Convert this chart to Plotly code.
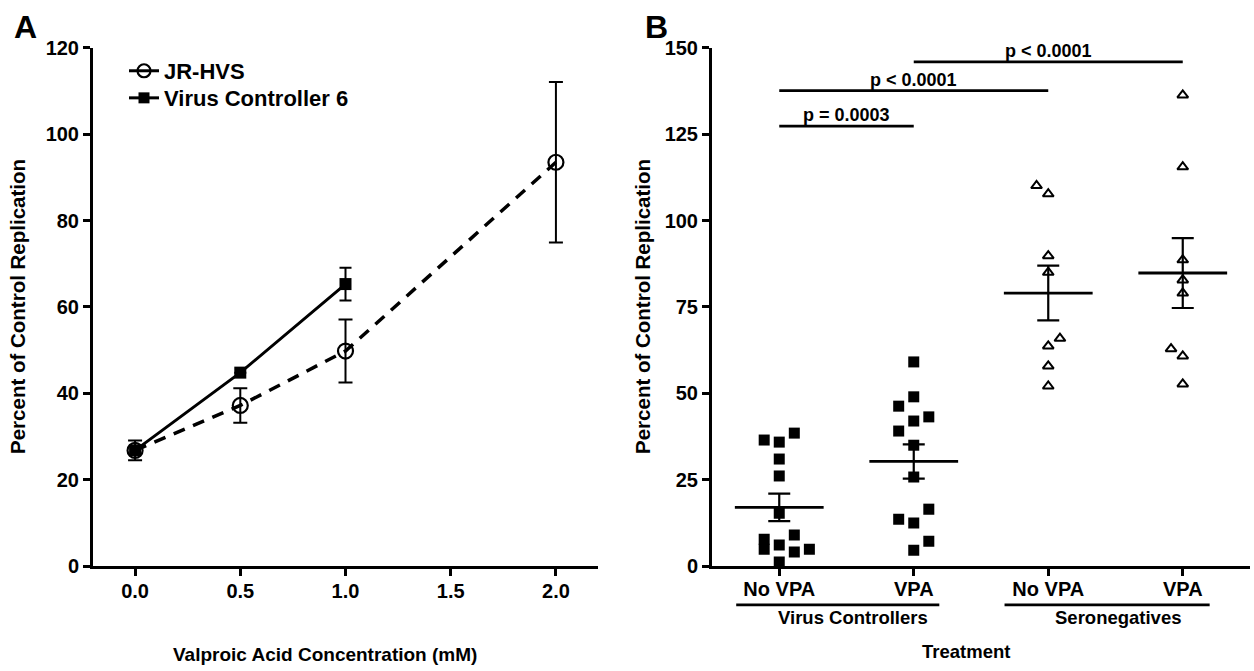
import numpy as np
import plotly.graph_objects as go

# ---------------- data ----------------
# Panel A
conc_jr = [0.0, 0.5, 1.0, 2.0]
jr_mean = [26.8, 37.2, 49.8, 93.5]
jr_sem = [2.3, 4.0, 7.3, 18.6]
conc_vc = [0.0, 0.5, 1.0]
vc_mean = [26.8, 44.8, 65.3]
vc_sem = [1.0, 0.0, 3.8]

# Panel B
tick_labels = ["No VPA", "VPA", "No VPA", "VPA"]
group_names = ["Virus Controllers", "Seronegatives"]
vc_no_vpa = [36.5, 35.9, 38.5, 31.0, 26.1, 15.3, 7.8, 4.9, 6.1, 9.0, 4.1, 4.9, 1.2]
vc_vpa = [59.1, 49.0, 46.3, 42.0, 43.2, 39.1, 35.0, 25.8, 16.5, 13.6, 12.5, 7.2, 4.6]
sn_no_vpa = [110.1, 107.7, 89.8, 85.0, 65.9, 63.7, 57.9, 52.1]
sn_vpa = [136.3, 115.5, 88.6, 82.8, 79.0, 62.9, 60.8, 52.7]
# scatter jitter (layout: column offsets in units of one point width)
jit_vc_no_vpa = [-1, 0, 1, 0, 0, 0, -1, -1, 0, 1, 1, 2, 0]
jit_vc_vpa = [0, 0, -1, 0, 1, -1, 0, 0, 1, -1, 0, 1, 0]
jit_sn_no_vpa = [-1, 0, 0, 0, 1, 0, 0, 0]
jit_sn_vpa = [0, 0, 0, 0, 0, -1, 0, 0]
comparisons = [("p = 0.0003", 1, 2, 127.3), ("p < 0.0001", 1, 3, 137.6), ("p < 0.0001", 2, 4, 145.9)]

W, H = 1254, 671
FONT = "Arial, Liberation Sans, Helvetica, sans-serif"

# vertical placement (pixels from top)
Y_TOP, Y_BOT = 38, 574


def px(x):
    return x / W


def py(y):
    return 1 - y / H


fig = go.Figure()

# ---------------- Panel A ----------------
fig.add_trace(go.Scatter(
    x=conc_jr, y=jr_mean, mode="lines+markers", xaxis="x", yaxis="y",
    line=dict(color="black", width=3.5, dash="12px,9px"),
    marker=dict(symbol="circle-open", size=15, color="black", line=dict(width=2.2)),
    error_y=dict(type="data", array=jr_sem, visible=True, color="black", thickness=2, width=7),
    showlegend=False,
))
fig.add_trace(go.Scatter(
    x=conc_vc, y=vc_mean, mode="lines+markers", xaxis="x", yaxis="y",
    line=dict(color="black", width=3),
    marker=dict(symbol="square", size=12, color="black"),
    error_y=dict(type="data", array=vc_sem, visible=True, color="black", thickness=2, width=6),
    showlegend=False,
))
# legend entries (one legend each, so their rows can be placed like the original)
fig.add_trace(go.Scatter(
    x=[None], y=[None], mode="lines+markers", name="<b>JR-HVS</b>", xaxis="x", yaxis="y",
    line=dict(color="black", width=3), legend="legend",
    marker=dict(symbol="circle-open", size=13, color="black", line=dict(width=2.2)),
))
fig.add_trace(go.Scatter(
    x=[None], y=[None], mode="lines+markers", name="<b>Virus Controller 6</b>", xaxis="x", yaxis="y",
    line=dict(color="black", width=3), legend="legend2",
    marker=dict(symbol="square", size=11, color="black"),
))

# ---------------- Panel B ----------------
b_values = [vc_no_vpa, vc_vpa, sn_no_vpa, sn_vpa]
b_jitter = [jit_vc_no_vpa, jit_vc_vpa, jit_sn_no_vpa, jit_sn_vpa]
b_symbols = ["square", "square", "triangle-up-open", "triangle-up-open"]
b_sizes = [11, 11, 9.5, 9.5]
b_step = [0.112, 0.112, 0.087, 0.087]
for i, (vals, jit) in enumerate(zip(b_values, b_jitter)):
    pos = i + 1
    xs = [pos + j * b_step[i] for j in jit]
    open_sym = "open" in b_symbols[i]
    fig.add_trace(go.Scatter(
        x=xs, y=vals, mode="markers", xaxis="x2", yaxis="y2", showlegend=False,
        marker=dict(symbol=b_symbols[i], size=b_sizes[i], color="black",
                    line=dict(width=2 if open_sym else 0, color="black")),
    ))
    arr = np.array(vals)
    m = arr.mean()
    sem = arr.std(ddof=1) / np.sqrt(len(arr))
    fig.add_trace(go.Scatter(
        x=[pos - 0.33, pos + 0.33], y=[m, m], mode="lines", xaxis="x2", yaxis="y2",
        line=dict(color="black", width=2.8), showlegend=False,
    ))
    fig.add_trace(go.Scatter(
        x=[pos], y=[m], mode="markers", xaxis="x2", yaxis="y2", showlegend=False,
        marker=dict(size=1, color="rgba(0,0,0,0)"),
        error_y=dict(type="data", array=[sem], visible=True, color="black", thickness=2.2, width=11),
    ))

shapes = []
annotations = []
for text, a, b, yv in comparisons:
    shapes.append(dict(type="line", xref="x2", yref="y2", x0=a, x1=b, y0=yv, y1=yv,
                       line=dict(color="black", width=2.8)))
    annotations.append(dict(text="<b>%s</b>" % text, xref="x2", yref="y2", x=(a + b) / 2, y=yv,
                            yanchor="bottom", xanchor="center", showarrow=False, yshift=-1,
                            font=dict(size=18, family=FONT, color="black")))

# group underlines and labels
group_spans = [(0.68, 2.19, 1.55), (2.675, 4.2, 3.52)]
for name, (x0, x1, xc) in zip(group_names, group_spans):
    shapes.append(dict(type="line", xref="x2", yref="paper", x0=x0, x1=x1, y0=py(614), y1=py(614),
                       line=dict(color="black", width=2.8)))
    annotations.append(dict(text="<b>%s</b>" % name, xref="x2", yref="paper", x=xc, y=py(627),
                            xanchor="center", yanchor="middle", showarrow=False,
                            font=dict(size=18.5, family=FONT, color="black")))

# axis titles and panel letters
annotations += [
    dict(text="<b>Percent of Control Replication</b>", xref="paper", yref="paper", x=px(18), y=py(306),
         textangle=-90, showarrow=False, xanchor="center", yanchor="middle",
         font=dict(size=20.5, family=FONT, color="black")),
    dict(text="<b>Valproic Acid Concentration (mM)</b>", xref="paper", yref="paper", x=px(325), y=py(665),
         showarrow=False, xanchor="center", yanchor="middle", font=dict(size=19, family=FONT, color="black")),
    dict(text="<b>Percent of Control Replication</b>", xref="paper", yref="paper", x=px(643), y=py(306),
         textangle=-90, showarrow=False, xanchor="center", yanchor="middle",
         font=dict(size=20.5, family=FONT, color="black")),
    dict(text="<b>Treatment</b>", xref="paper", yref="paper", x=px(966), y=py(662),
         showarrow=False, xanchor="center", yanchor="middle", font=dict(size=18.5, family=FONT, color="black")),
    dict(text="<b>A</b>", xref="paper", yref="paper", x=px(25), y=py(17), showarrow=False,
         xanchor="center", yanchor="middle", font=dict(size=32, family=FONT, color="black")),
    dict(text="<b>B</b>", xref="paper", yref="paper", x=px(656), y=py(17), showarrow=False,
         xanchor="center", yanchor="middle", font=dict(size=32, family=FONT, color="black")),
]

axis_common = dict(showline=True, linecolor="black", linewidth=3, ticks="outside", ticklen=7,
                   tickwidth=2.5, tickcolor="black", showgrid=False, zeroline=False,
                   tickfont=dict(size=20, family=FONT, color="black"))

legend_common = dict(xanchor="left", yanchor="middle", bgcolor="rgba(0,0,0,0)",
                     font=dict(size=22, family=FONT, color="black"), itemwidth=30)

fig.update_layout(
    width=W, height=H, margin=dict(l=0, r=0, t=0, b=0),
    paper_bgcolor="white", plot_bgcolor="white",
    font=dict(family=FONT, color="black"),
    xaxis=dict(domain=[px(93), px(598)], range=[-0.2, 2.2], tickvals=[0, 0.5, 1.0, 1.5, 2.0],
               ticktext=["<b>0.0</b>", "<b>0.5</b>", "<b>1.0</b>", "<b>1.5</b>", "<b>2.0</b>"],
               anchor="y", ticklabelstandoff=-2, **axis_common),
    yaxis=dict(domain=[py(Y_BOT), py(Y_TOP)], range=[0, 120], tickvals=[0, 20, 40, 60, 80, 100, 120],
               ticktext=["<b>%d</b>" % v for v in [0, 20, 40, 60, 80, 100, 120]],
               anchor="x", **axis_common),
    xaxis2=dict(domain=[px(712), px(1250)], range=[0.5, 4.5], tickvals=[1, 2, 3, 4],
                ticktext=["<b>%s</b>" % t for t in tick_labels], anchor="y2",
                ticklabelstandoff=-4, **axis_common),
    yaxis2=dict(domain=[py(Y_BOT), py(Y_TOP)], range=[0, 150], tickvals=[0, 25, 50, 75, 100, 125, 150],
                ticktext=["<b>%d</b>" % v for v in [0, 25, 50, 75, 100, 125, 150]],
                anchor="x2", **axis_common),
    legend=dict(x=px(124), y=py(62), **legend_common),
    legend2=dict(x=px(124), y=py(90), **legend_common),
    shapes=shapes, annotations=annotations,
)

fig.write_html("out.html", config={"displayModeBar": False},
               post_script="document.body.style.margin='0';document.body.style.overflow='hidden';")
